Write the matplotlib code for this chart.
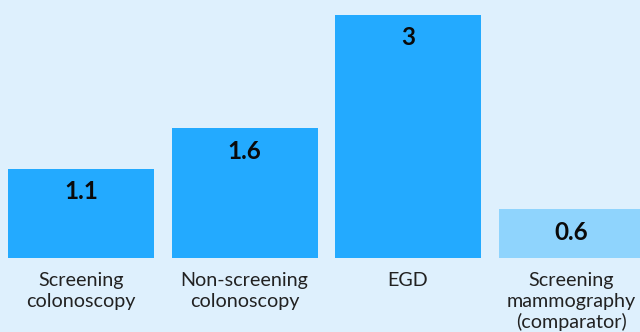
import matplotlib
matplotlib.use("Agg")
from matplotlib import pyplot as plt

categories = ["Screening\ncolonoscopy", "Non-screening\ncolonoscopy", "EGD",
              "Screening\nmammography\n(comparator)"]
values = [1.1, 1.6, 3, 0.6]
value_labels = ["1.1", "1.6", "3", "0.6"]

bg = "#def0fd"
bar_color = "#23aaff"
comparator_color = "#8fd4fd"
colors = [bar_color, bar_color, bar_color, comparator_color]

fig = plt.figure(figsize=(6.4, 3.32), dpi=100, facecolor=bg)
ax = fig.add_axes([0, 0, 1, 1])
ax.set_facecolor(bg)

# pixel scale: 163.5 px per category, 81 px per unit of value
xs = list(range(len(values)))
ax.bar(xs, values, width=146 / 163.5, color=colors)
ax.set_xlim(-81 / 163.5, (640 - 81) / 163.5)
ax.set_ylim(-74 / 81, (332 - 74) / 81)
ax.axis("off")

for x, v, lab in zip(xs, values, value_labels):
    ax.annotate(lab, (x, v), xytext=(0, -23), textcoords="offset pixels",
                ha="center", va="center", fontsize=17.5, fontweight="bold",
                family="Lato", color="#0a0a0a")

for x, cat in zip(xs, categories):
    ax.annotate(cat, (x, 0), xytext=(0, -14), textcoords="offset pixels",
                ha="center", va="top", fontsize=14.2, family="Lato",
                color="#222222", linespacing=1.25)

fig.savefig("out.png", dpi=100, facecolor=bg)
